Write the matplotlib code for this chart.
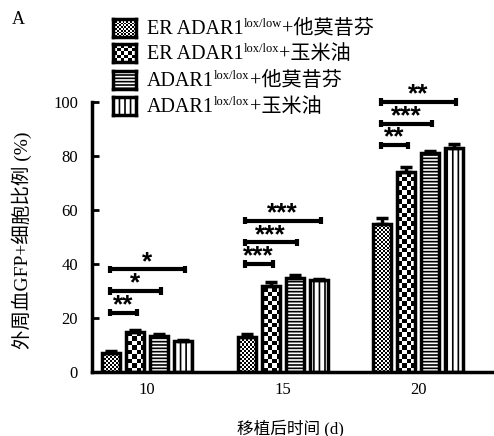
import numpy as np
import matplotlib.pyplot as plt

plt.rcParams['font.family'] = ['Liberation Serif', 'Noto Sans CJK SC']
plt.rcParams['hatch.linewidth'] = 1.2

days = ['10', '15', '20']
groups = ['ER ADAR1', 'ER ADAR1', 'ADAR1', 'ADAR1']
sups = ['lox/low', 'lox/lox', 'lox/lox', 'lox/lox']
treat = ['+他莫昔芬', '+玉米油', '+他莫昔芬', '+玉米油']

# rows = groups, cols = days
means = np.array([
    [7.0, 13.0, 55.0],
    [15.0, 32.0, 74.0],
    [13.5, 35.0, 81.0],
    [11.5, 34.0, 83.0],
])
errs = np.array([
    [0.8, 1.0, 2.0],
    [0.5, 1.2, 2.0],
    [0.6, 0.8, 1.0],
    [0.5, 0.5, 1.5],
])

# significance: (day index, compared group, height, label)
sig = [
    (0, 1, 22, '**'), (0, 2, 30, '*'), (0, 3, 38, '*'),
    (1, 1, 40, '***'), (1, 2, 48, '***'), (1, 3, 56, '***'),
    (2, 1, 84, '**'), (2, 2, 92, '***'), (2, 3, 100, '**'),
]

W, H, DPI = 494, 436, 100
fig = plt.figure(figsize=(W / DPI, H / DPI), dpi=DPI)
ax_l, ax_r, ax_b, ax_t = 92, 492, 372, 102
ax = fig.add_axes([ax_l / W, 1 - ax_b / H, (ax_r - ax_l) / W, (ax_b - ax_t) / H])

px = 135.5  # pixels per group
bw = 18 / px
step = 24 / px
offs = (np.arange(4) - 1.5) * step
x = np.arange(len(days))
xlim = ((ax_l - 147) / px, (ax_r - 147) / px)
ylim = (0, 100)


def checker(cell):
    ny = int((ax_b - ax_t) / cell) + 1
    nx = int((ax_r - ax_l) / cell) + 1
    return np.indices((ny, nx)).sum(0) % 2


pats = [checker(2), checker(4.5)]
hatches = [None, None, '-----', '|||']

for i in range(4):
    bars = ax.bar(x + offs[i], means[i], bw, facecolor='white' if i > 1 else 'none',
                  edgecolor='black', linewidth=2.5, hatch=hatches[i], zorder=2)
    if i < 2:
        for b in bars:
            im = ax.imshow(pats[i], extent=(xlim[0], xlim[1], ylim[0], ylim[1]),
                           cmap='gray', aspect='auto', interpolation='nearest',
                           origin='lower', zorder=1.5)
            im.set_clip_path(b)
    ax.errorbar(x + offs[i], means[i], yerr=[np.zeros(3), errs[i]], fmt='none',
                ecolor='black', elinewidth=2.5, capsize=4.5, capthick=2.5, zorder=3)

for d, g, h, lab in sig:
    x1 = d + offs[0] - 0.01
    x2 = d + offs[g] + 0.015
    ax.plot([x1, x2], [h, h], color='black', lw=3, clip_on=False, zorder=4,
            solid_capstyle='butt')
    for xx in (x1, x2):
        ax.plot([xx, xx], [h - 1.3, h + 1.3], color='black', lw=3, clip_on=False,
                zorder=4, solid_capstyle='butt')
    ax.text((x1 + x2) / 2, h + 0.2, lab, ha='center', va='baseline', fontsize=19,
            fontweight='bold', family='Liberation Sans', clip_on=False)

ax.set_xlim(*xlim)
ax.set_ylim(*ylim)
ax.set_xticks(x)
ax.set_xticklabels(days, fontsize=12)
ax.set_yticks(np.arange(0, 101, 20))
ax.tick_params(axis='y', direction='in', length=5, width=2, labelsize=12, pad=10)
ax.tick_params(axis='x', length=0, pad=7)
for s in ['top', 'right']:
    ax.spines[s].set_visible(False)
for s in ['left', 'bottom']:
    ax.spines[s].set_linewidth(2.5)

fig.text(22 / W, 1 - 240 / H, '外周血GFP+细胞比例 (%)', rotation=90, ha='center',
         va='center', fontsize=14)
fig.text(290 / W, 1 - 428 / H, '移植后时间 (d)', ha='center', va='center', fontsize=12)
fig.text(12 / W, 1 - 20 / H, 'A', ha='left', va='center', fontsize=13)

# legend drawn by hand so the checker swatches match the bars
rows = [28, 53, 80, 106]
for i, yc in enumerate(rows):
    sw = fig.add_axes([113 / W, 1 - (yc + 9) / H, 23 / W, 18 / H])
    sw.set_xticks([])
    sw.set_yticks([])
    for sp in sw.spines.values():
        sp.set_linewidth(2.5)
    if i < 2:
        cell = 2 if i == 0 else 4.5
        n = np.indices((int(18 / cell) + 1, int(23 / cell) + 1)).sum(0) % 2
        sw.imshow(n, cmap='gray', aspect='auto', interpolation='nearest')
    else:
        sw.add_patch(plt.Rectangle((0, 0), 1, 1, transform=sw.transAxes,
                                   facecolor='white', edgecolor='black',
                                   hatch=hatches[i], lw=0))
    yb = 1 - (yc + 6) / H
    t1 = fig.text(147 / W, yb, groups[i], ha='left', va='baseline', fontsize=14.5)
    fig.canvas.draw()
    bb = t1.get_window_extent()
    t2 = fig.text(bb.x1 / W, yb + 7 / H, sups[i], fontsize=9, va='baseline', ha='left')
    fig.canvas.draw()
    bb2 = t2.get_window_extent()
    fig.text(bb2.x1 / W, yb, treat[i], ha='left', va='baseline', fontsize=14.5)

fig.savefig('out.png', dpi=DPI)
